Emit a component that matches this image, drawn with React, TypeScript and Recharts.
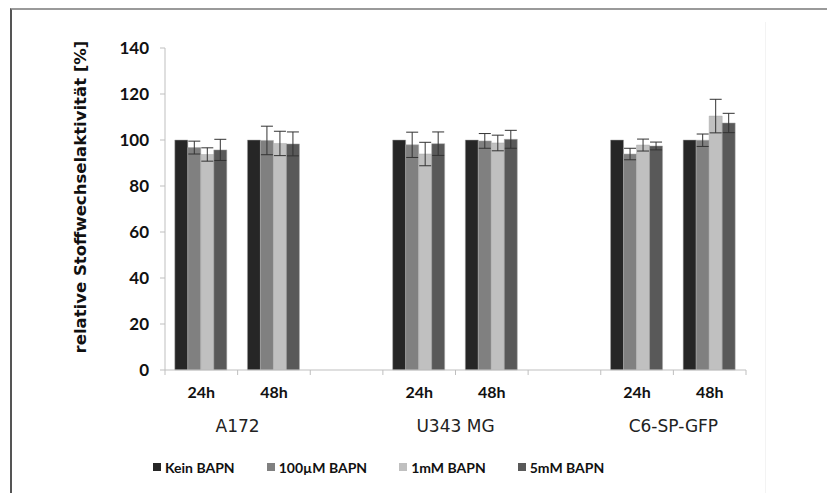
import React from 'react';
import { BarChart, Bar, XAxis, YAxis, ErrorBar, Legend } from 'recharts';

const categories = ['24h', '48h', '', '24h', '48h', '', '24h', '48h'];
const groupLabels = ['A172', '', '', 'U343 MG', '', '', 'C6-SP-GFP', ''];

const keinBapn = [100, 100, null, 100, 100, null, 100, 100];
const bapn100uM = [96.7, 99.8, null, 97.9, 99.6, null, 93.9, 99.9];
const bapn100uMErr = [2.8, 6.2, null, 5.5, 3.2, null, 2.5, 2.7];
const bapn1mM = [93.7, 98.5, null, 93.9, 98.7, null, 97.8, 110.4];
const bapn1mMErr = [2.9, 5.3, null, 5.1, 3.4, null, 2.6, 7.3];
const bapn5mM = [95.7, 98.3, null, 98.4, 100.3, null, 97.4, 107.4];
const bapn5mMErr = [4.6, 5.2, null, 5.1, 3.9, null, 1.7, 4.2];

const yTicks = [0, 20, 40, 60, 80, 100, 120, 140];

const seriesNames = ['Kein BAPN', '100\u00b5M BAPN', '1mM BAPN', '5mM BAPN'];
const COLORS = ['#262626', '#808080', '#c0c0c0', '#595959'];

const data = categories.map((cat, i) => ({
  cat,
  kein: keinBapn[i],
  um100: bapn100uM[i],
  um100Err: bapn100uMErr[i],
  mm1: bapn1mM[i],
  mm1Err: bapn1mMErr[i],
  mm5: bapn5mM[i],
  mm5Err: bapn5mMErr[i],
}));

const W = 827;
const H = 493;
const X_AXIS_H = 30;
const LEGEND_H = 18;
const MARGIN = { top: 48, right: 81, bottom: 123 - X_AXIS_H - LEGEND_H, left: 0 };
const Y_AXIS_W = 165;
const SLOT = (W - MARGIN.right - MARGIN.left - Y_AXIS_W) / categories.length;
const FONT = 'Lato, "DejaVu Sans", sans-serif';
const WIDE_FONT = '"DejaVu Sans", sans-serif';

const XTick = (props: any) => {
  const { x, y, payload, index } = props;
  const half = SLOT / 2;
  const i = typeof index === 'number' ? index : payload.index;
  const group = groupLabels[i];
  return (
    <g>
      <line x1={x - half} x2={x - half} y1={y} y2={y + 5} stroke="#bfbfbf" />
      {i === categories.length - 1 && (
        <line x1={x + half} x2={x + half} y1={y} y2={y + 5} stroke="#bfbfbf" />
      )}
      {payload.value && (
        <text x={x} y={y + 28} textAnchor="middle" fontFamily={FONT} fontWeight="bold" fontSize={16} fill="#111">
          {payload.value}
        </text>
      )}
      {group && (
        <text x={x + half} y={y + 62} textAnchor="middle" fontFamily={WIDE_FONT} fontSize={17} fill="#222">
          {group}
        </text>
      )}
    </g>
  );
};

const YLabel = (props: any) => {
  const { viewBox } = props;
  const cx = viewBox.x + 80;
  const cy = viewBox.y + viewBox.height / 2 - 12;
  return (
    <text
      x={cx}
      y={cy}
      transform={`rotate(-90, ${cx}, ${cy})`}
      textAnchor="middle"
      dominantBaseline="central"
      fontFamily={WIDE_FONT}
      fontWeight="bold"
      fontSize={16.5}
      fill="#111"
    >
      relative Stoffwechselaktivität [%]
    </text>
  );
};

const renderLegend = () => (
  <div style={{ display: 'flex', gap: 32, height: LEGEND_H, fontFamily: FONT, fontWeight: 'bold', fontSize: 14, color: '#111' }}>
    {seriesNames.map((name, i) => (
      <div key={name} style={{ display: 'flex', alignItems: 'center' }}>
        <span style={{ width: 8, height: 8, background: COLORS[i], marginRight: 4, display: 'inline-block' }} />
        {name}
      </div>
    ))}
  </div>
);

export default function App() {
  return (
    <div style={{ position: 'absolute', left: 0, top: 0, width: W, height: H, background: '#fff' }}>
      {/* frame */}
      <div style={{ position: 'absolute', left: 10, top: 8, right: 0, bottom: 0, borderTop: '2px solid #9a9a9a', borderLeft: '2px solid #555' }} />
      <div style={{ position: 'absolute', left: 765, top: 22, bottom: 0, borderLeft: '1px solid #f3f3f3' }} />
      <BarChart
        width={W}
        height={H}
        data={data}
        margin={MARGIN}
        barCategoryGap="13.5%"
        barGap={0}
        style={{ position: 'absolute', left: 0, top: 0 }}
      >
        <XAxis
          dataKey="cat"
          height={X_AXIS_H}
          axisLine={{ stroke: '#bfbfbf' }}
          tickLine={false}
          tickSize={0}
          tickMargin={0}
          interval={0}
          tick={<XTick />}
        />
        <YAxis
          width={Y_AXIS_W}
          domain={[0, 140]}
          ticks={yTicks}
          axisLine={{ stroke: '#bfbfbf' }}
          tickLine={{ stroke: '#bfbfbf' }}
          tickSize={5}
          tickMargin={11}
          tick={{ fontFamily: FONT, fontWeight: 'bold', fontSize: 17, fill: '#111' }}
          label={<YLabel />}
        />
        <Legend content={renderLegend} wrapperStyle={{ position: 'absolute', left: 153, top: 458, width: 'auto', height: LEGEND_H }} />
        <Bar dataKey="kein" name={seriesNames[0]} fill={COLORS[0]} stroke="#a8a8a8" strokeWidth={0.5} isAnimationActive={false} />
        <Bar dataKey="um100" name={seriesNames[1]} fill={COLORS[1]} stroke="#a8a8a8" strokeWidth={0.5} isAnimationActive={false}>
          <ErrorBar dataKey="um100Err" width={6} stroke="#333" strokeWidth={1} direction="y" />
        </Bar>
        <Bar dataKey="mm1" name={seriesNames[2]} fill={COLORS[2]} stroke="#a8a8a8" strokeWidth={0.5} isAnimationActive={false}>
          <ErrorBar dataKey="mm1Err" width={6} stroke="#333" strokeWidth={1} direction="y" />
        </Bar>
        <Bar dataKey="mm5" name={seriesNames[3]} fill={COLORS[3]} stroke="#a8a8a8" strokeWidth={0.5} isAnimationActive={false}>
          <ErrorBar dataKey="mm5Err" width={6} stroke="#333" strokeWidth={1} direction="y" />
        </Bar>
      </BarChart>
    </div>
  );
}
